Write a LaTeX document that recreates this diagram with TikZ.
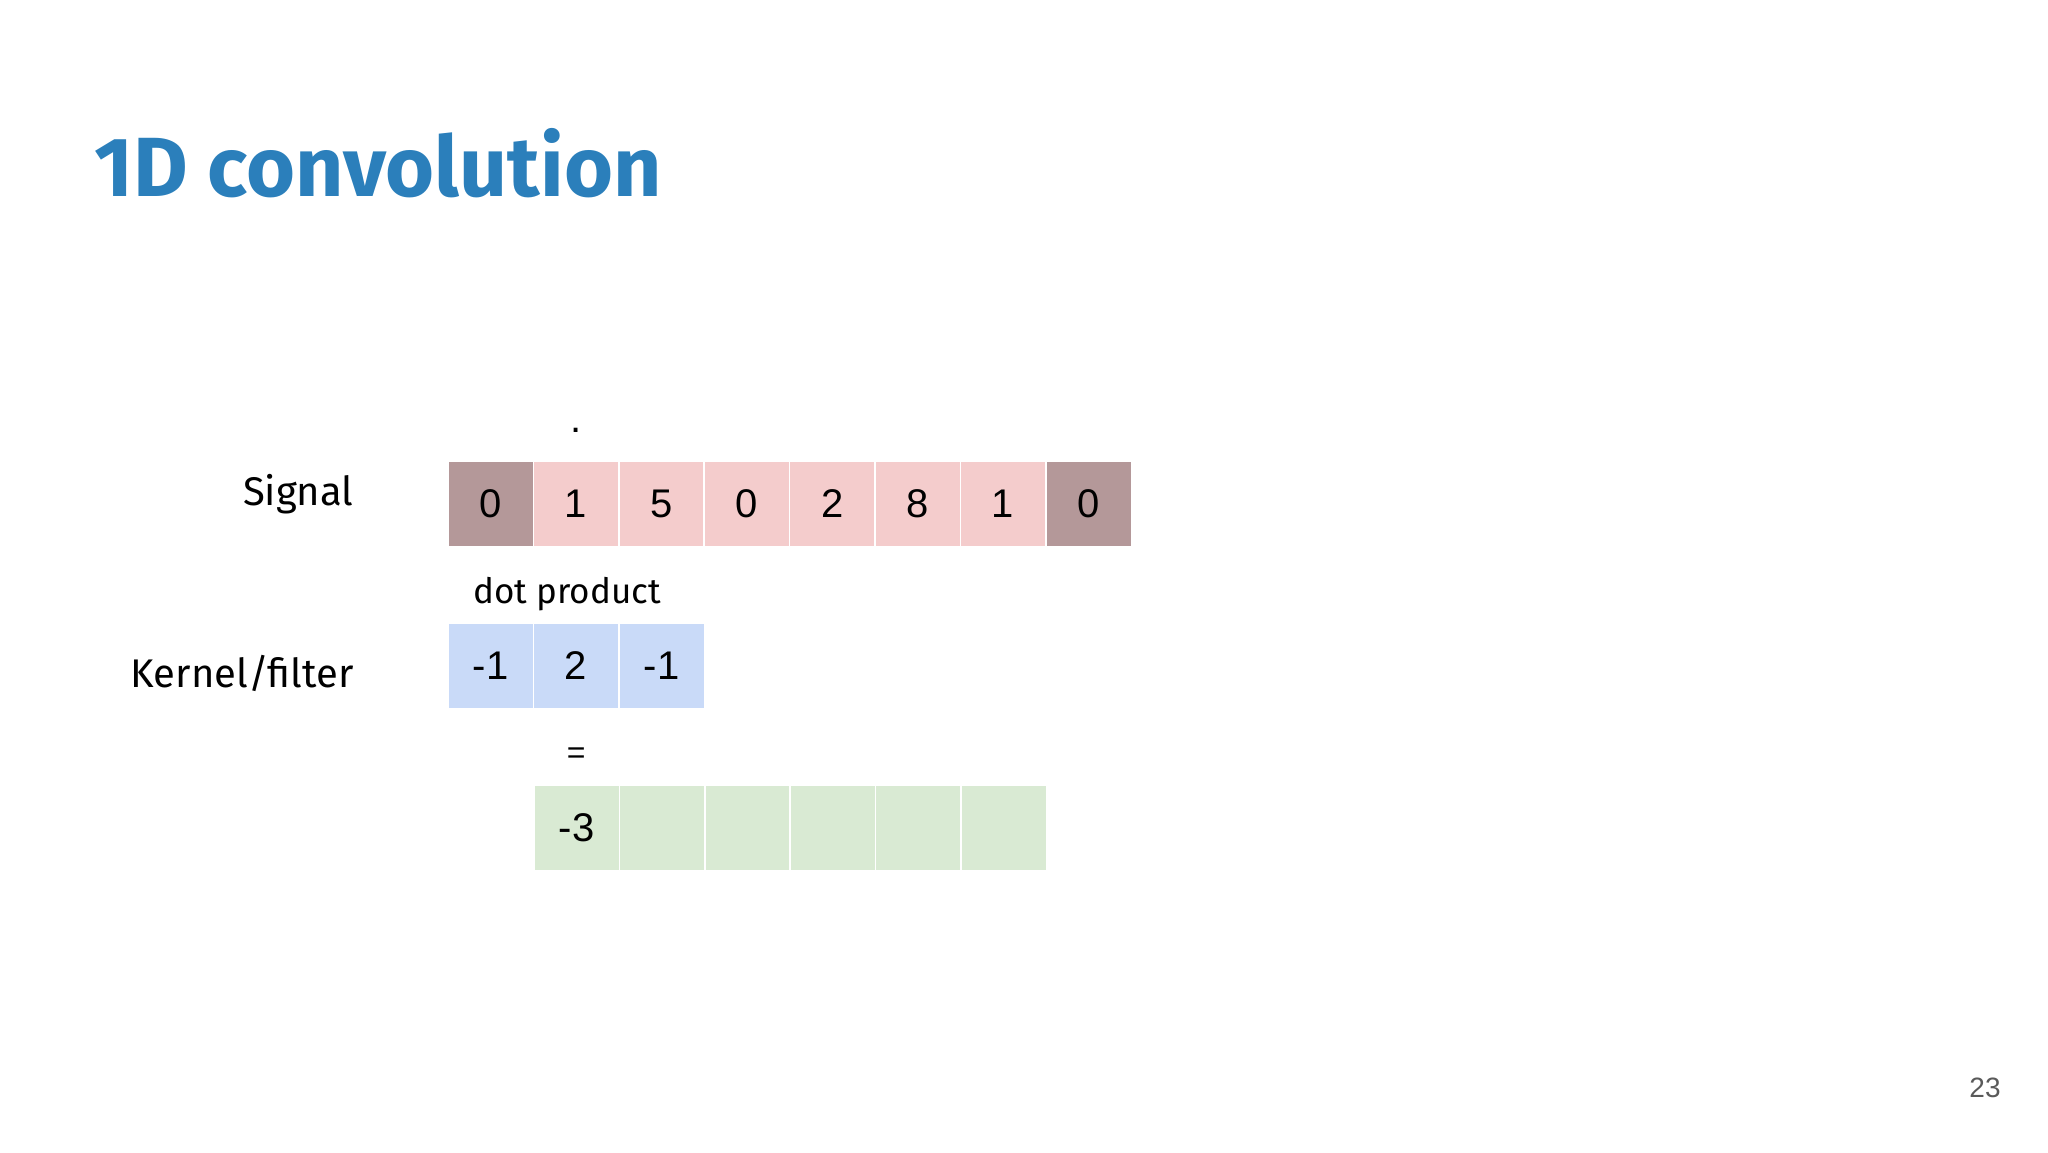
\documentclass[tikz,border=0pt]{standalone}
\usepackage{fontspec}
\setmainfont{Fira Sans}
\newfontfamily\numfont{Liberation Sans}
\usetikzlibrary{positioning}
\definecolor{titleblue}{RGB}{43,127,187}
\definecolor{padcol}{RGB}{180,152,153}
\definecolor{sigcol}{RGB}{244,204,204}
\definecolor{kercol}{RGB}{201,218,248}
\definecolor{outcol}{RGB}{217,234,211}
\definecolor{pagenum}{RGB}{90,90,90}

\begin{document}
\begin{tikzpicture}[x=1pt,y=-1pt,
  cell/.style={draw=white,line width=1.5pt,minimum size=85.5pt,inner sep=0pt,
    font=\numfont\fontsize{40}{48}\selectfont},
  lbl/.style={anchor=east,font=\fontsize{40}{48}\selectfont}]
\useasboundingbox (0,0) rectangle (2048,1152);
\node[anchor=base west,text=titleblue,font=\bfseries\fontsize{84}{96}\selectfont,inner sep=0pt] (title) at (94,196) {1D convolution};
% signal row
\foreach \v [count=\i] in {0,1,5,0,2,8,1,0}
  \node[cell,fill=sigcol] (s\i) at ({448+85.4*(\i-0.5)},504) {\v};
\node[cell,fill=padcol] at (s1) {0};
\node[cell,fill=padcol] at (s8) {0};
\node[lbl] (signal) at (357,494) {Signal};
\node[font=\numfont\fontsize{40}{48}\selectfont] (dot) at (s2 |- 0,430) {.};
\node[font=\fontsize{35}{42}\selectfont] (dotprod) at (567,594) {dot product};
% kernel row
\foreach \v [count=\i] in {-1,2,-1}
  \node[cell,fill=kercol] (k\i) at ({448+85.4*(\i-0.5)},666) {\v};
\node[lbl] (kernel) at (357,673) {Kernel/filter};
\node[font=\numfont\fontsize{32}{40}\selectfont] (eq) at (k2 |- 0,756) {=};
% output row
\foreach \v [count=\i] in {-3,,,,,}
  \node[cell,fill=outcol] (o\i) at ({534+85.4*(\i-0.5)},828) {\v};
\node[text=pagenum,font=\numfont\fontsize{28}{34}\selectfont] (num) at (1985,1088) {23};
\end{tikzpicture}
\end{document}
